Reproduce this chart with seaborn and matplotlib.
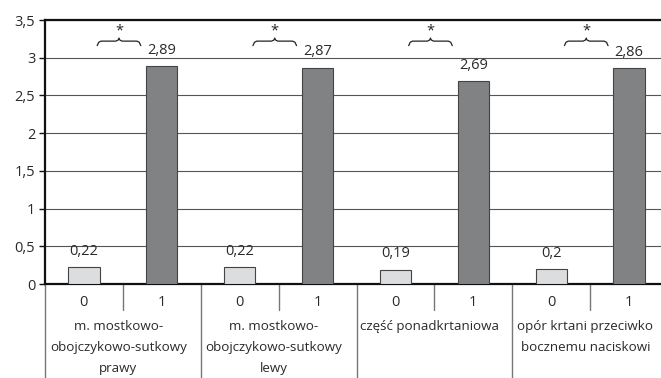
import pandas as pd
import matplotlib.pyplot as plt
import matplotlib.transforms as mtransforms
import seaborn as sns

# Datos
grupos = ["m. mostkowo-\nobojczykowo-sutkowy\nprawy",
          "m. mostkowo-\nobojczykowo-sutkowy\nlewy",
          "część ponadkrtaniowa",
          "opór krtani przeciwko\nbocznemu naciskowi"]
niveles = ["0", "1"]
valores_0 = [0.22, 0.22, 0.19, 0.2]
valores_1 = [2.89, 2.87, 2.69, 2.86]
yticks = [0, 0.5, 1, 1.5, 2, 2.5, 3, 3.5]

filas = []
for i, g in enumerate(grupos):
    filas.append({"slot": f"{i}-0", "nivel": "0", "valor": valores_0[i]})
    filas.append({"slot": f"{i}-1", "nivel": "1", "valor": valores_1[i]})
df = pd.DataFrame(filas)
orden = list(df["slot"])

sns.set_style("white")
plt.rcParams["font.family"] = ["Open Sans", "DejaVu Sans"]
fs = 10.5
gris_txt = "#2a2a2a"

fig = plt.figure(figsize=(6.61, 3.78), dpi=100)
ax = fig.add_axes([45 / 661, (378 - 284) / 378, 623 / 661, 264 / 378])

sns.barplot(data=df, x="slot", y="valor", hue="nivel", order=orden,
            palette={"0": "#dcdddf", "1": "#808285"}, dodge=False,
            width=0.4, edgecolor="#444444", linewidth=0.8,
            legend=False, ax=ax, zorder=3)

for cont in ax.containers:
    etiquetas = [f"{v:g}".replace(".", ",") for v in cont.datavalues]
    ax.bar_label(cont, labels=etiquetas, padding=6, fontsize=fs,
                 color=gris_txt)

ax.set_ylim(0, 3.5)
ax.set_xlim(-0.5, 7.5)
ax.set_yticks(yticks)
ax.set_yticklabels([f"{t:g}".replace(".", ",") for t in yticks])
ax.yaxis.grid(True, color="#555555", linewidth=0.8, zorder=0)
ax.set_axisbelow(True)
ax.set_xlabel("")
ax.set_ylabel("")

for lado in ["left", "bottom", "top"]:
    ax.spines[lado].set_color("#111111")
    ax.spines[lado].set_linewidth(1.6)
ax.spines["right"].set_visible(False)

ax.tick_params(axis="y", length=4, width=1, color="#111111", left=True,
               labelsize=fs, labelcolor=gris_txt, pad=3)
ax.set_xticks(range(len(orden)))
ax.set_xticklabels(niveles * len(grupos))
ax.tick_params(axis="x", length=0, pad=8, labelsize=fs, labelcolor=gris_txt)

# Eje categorico de dos niveles
trans = mtransforms.blended_transform_factory(ax.transData, fig.transFigure)
y0 = (378 - 284) / 378
for k in range(len(grupos)):
    ax.plot([2 * k + 0.5] * 2, [y0, y0 - 26 / 378], transform=trans,
            color="#777777", lw=1, clip_on=False)
for k in range(len(grupos) + 1):
    ax.plot([2 * k - 0.5] * 2, [y0, 0], transform=trans,
            color="#777777", lw=1, clip_on=False)
for k, g in enumerate(grupos):
    ax.text(2 * k + 0.5 - 0.06, (378 - 320) / 378, g, transform=trans,
            ha="center", va="top", fontsize=9.6, color=gris_txt,
            linespacing=1.8)

# Llaves de significancia
for k in range(len(grupos)):
    a = 2 * k + 0.17
    b = 2 * k + 0.73
    m = (a + b) / 2
    yb = 3.22
    xs = [a, a + 0.02, a + 0.05, m - 0.04, m - 0.01, m, m + 0.01, m + 0.04,
          b - 0.05, b - 0.02, b]
    ys = [yb - 0.06, yb - 0.015, yb, yb, yb + 0.015, yb + 0.04, yb + 0.015,
          yb, yb, yb - 0.015, yb - 0.06]
    ax.plot(xs, ys, color="#222222", lw=0.9, clip_on=False, zorder=4)
    ax.text(m, 3.35, "*", ha="center", va="center", fontsize=fs,
            color="#222222")

fig.savefig("out.png", dpi=100)
